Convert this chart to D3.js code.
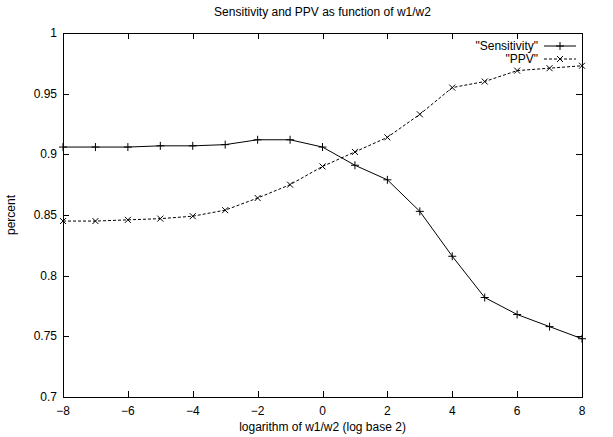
<!DOCTYPE html>
<html><head><meta charset="utf-8">
<script src="https://cdn.jsdelivr.net/npm/d3@7"></script>
<style>body{margin:0;background:#fff}text{font-family:"Liberation Sans",Arial,sans-serif;font-size:12px;fill:#000}</style>
</head><body><svg id="c" width="613" height="437"></svg>
<script>
const xValues = [-8,-7,-6,-5,-4,-3,-2,-1,0,1,2,3,4,5,6,7,8];
const sensitivity = [0.906,0.906,0.906,0.907,0.907,0.908,0.912,0.912,0.906,0.891,0.879,0.853,0.816,0.782,0.768,0.758,0.748];
const ppv = [0.845,0.845,0.846,0.847,0.849,0.854,0.864,0.875,0.890,0.902,0.914,0.933,0.955,0.960,0.969,0.971,0.973];
const xTicks = [-8,-6,-4,-2,0,2,4,6,8];
const yTicks = [0.7,0.75,0.8,0.85,0.9,0.95,1];
const title = "Sensitivity and PPV as function of w1/w2";
const xLabel = "logarithm of w1/w2 (log base 2)";
const yLabel = "percent";
const seriesNames = ['"Sensitivity"','"PPV"'];

const L=63,R=582,T=33,B=397;
const svg=d3.select("#c");
const x=d3.scaleLinear().domain([-8,8]).range([L,R]);
const y=d3.scaleLinear().domain([0.7,1]).range([B,T]);
const tl=6;
const tg=svg.append("g").attr("stroke","#000").attr("stroke-width",1);
xTicks.forEach(t=>{
  const px=Math.round(x(t))+0.5;
  tg.append("line").attr("x1",px).attr("x2",px).attr("y1",B).attr("y2",B-tl);
  tg.append("line").attr("x1",px).attr("x2",px).attr("y1",T).attr("y2",T+tl);
  svg.append("text").attr("x",x(t)).attr("y",B+18).attr("text-anchor","middle").text(d3.format("d")(t));
});
yTicks.forEach(t=>{
  const py=Math.round(y(t))+0.5;
  tg.append("line").attr("y1",py).attr("y2",py).attr("x1",L).attr("x2",L+tl);
  tg.append("line").attr("y1",py).attr("y2",py).attr("x1",R).attr("x2",R-tl);
  svg.append("text").attr("x",L-6).attr("y",y(t)+4).attr("text-anchor","end").text(String(t));
});
svg.append("rect").attr("x",L+0.5).attr("y",T+0.5).attr("width",R-L).attr("height",B-T)
  .attr("fill","none").attr("stroke","#000").attr("stroke-width",1);
svg.append("text").attr("x",(L+R)/2).attr("y",16).attr("text-anchor","middle").text(title);
svg.append("text").attr("x",(L+R)/2).attr("y",431).attr("text-anchor","middle").text(xLabel);
svg.append("text").attr("transform","translate(15,215) rotate(-90)").attr("text-anchor","middle").text(yLabel);

const line=d3.line().x(d=>x(d[0])).y(d=>y(d[1]));
const plus=(g,cx,cy,s)=>{g.append("path").attr("d",`M${cx-s},${cy}H${cx+s}M${cx},${cy-s}V${cy+s}`).attr("stroke","#000").attr("fill","none");};
const cross=(g,cx,cy,s)=>{g.append("path").attr("d",`M${cx-s},${cy-s}L${cx+s},${cy+s}M${cx-s},${cy+s}L${cx+s},${cy-s}`).attr("stroke","#000").attr("fill","none");};

const sData=xValues.map((v,i)=>[v,sensitivity[i]]);
const pData=xValues.map((v,i)=>[v,ppv[i]]);
const g1=svg.append("g");
g1.append("path").attr("d",line(sData)).attr("fill","none").attr("stroke","#000").attr("stroke-width",1);
sData.forEach(d=>plus(g1,x(d[0]),y(d[1]),4));
const g2=svg.append("g");
g2.append("path").attr("d",line(pData)).attr("fill","none").attr("stroke","#000").attr("stroke-width",1).attr("stroke-dasharray","3,2");
pData.forEach(d=>cross(g2,x(d[0]),y(d[1]),3));

const lx1=544,lx2=576,ly=[46,59];
svg.append("text").attr("x",lx1-6).attr("y",ly[0]+4).attr("text-anchor","end").text(seriesNames[0]);
svg.append("line").attr("x1",lx1).attr("x2",lx2).attr("y1",ly[0]).attr("y2",ly[0]).attr("stroke","#000");
plus(svg,(lx1+lx2)/2,ly[0],4);
svg.append("text").attr("x",lx1-6).attr("y",ly[1]+4).attr("text-anchor","end").text(seriesNames[1]);
svg.append("line").attr("x1",lx1).attr("x2",lx2).attr("y1",ly[1]).attr("y2",ly[1]).attr("stroke","#000").attr("stroke-dasharray","3,2");
cross(svg,(lx1+lx2)/2,ly[1],3);
</script></body></html>
